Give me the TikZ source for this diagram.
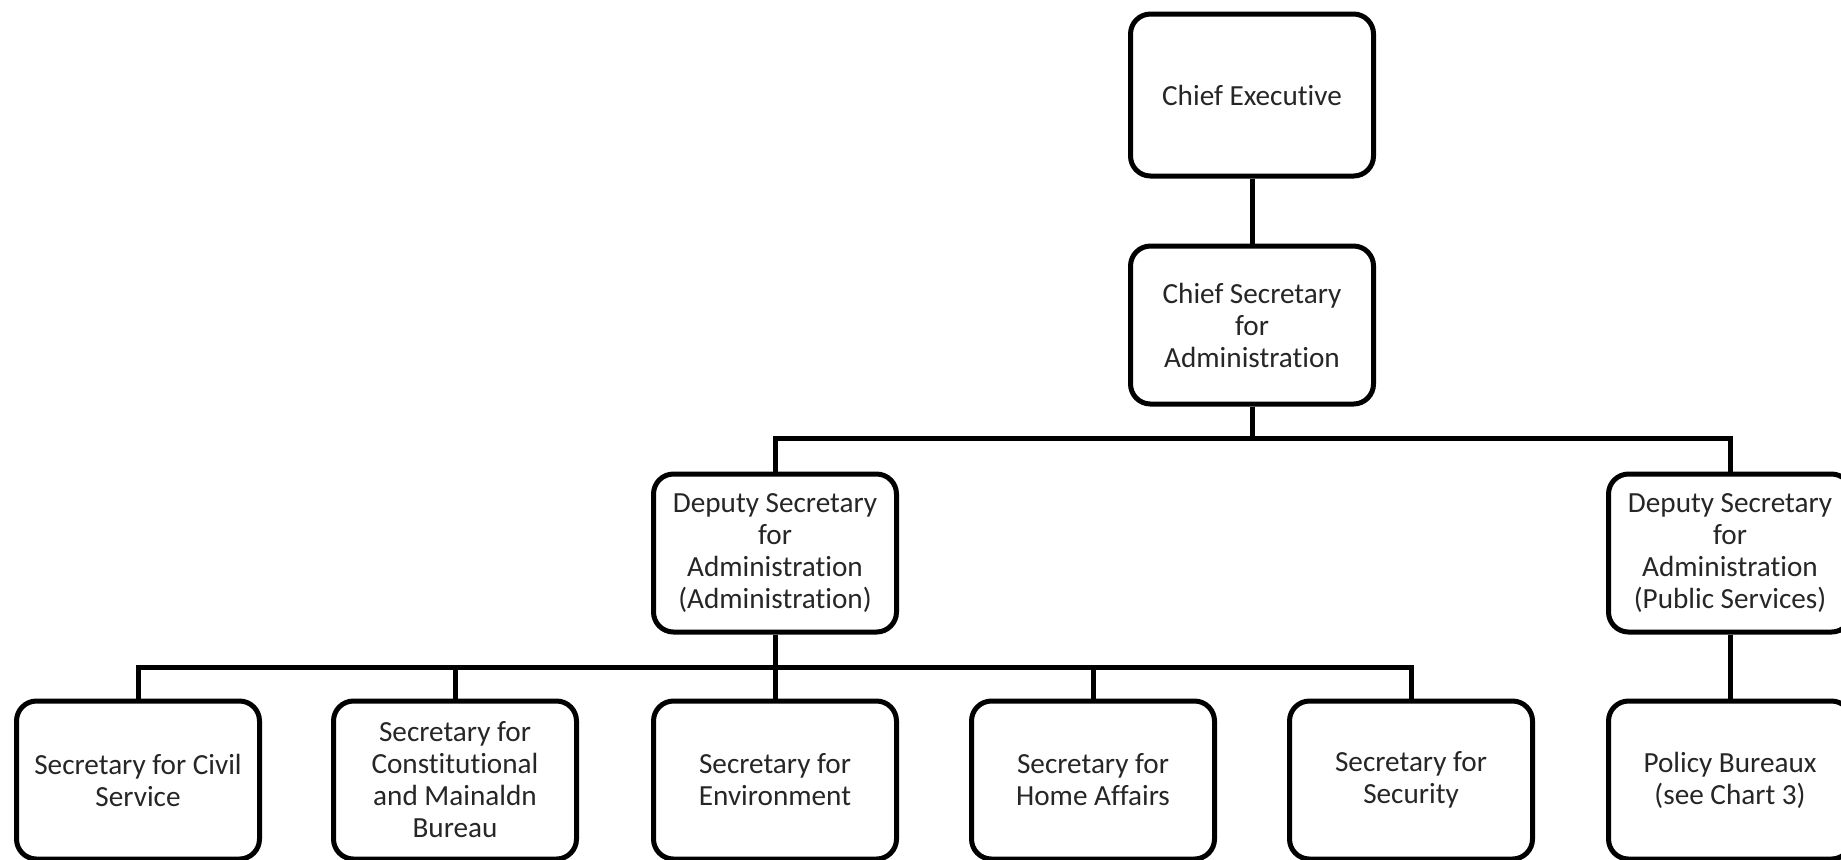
\documentclass[tikz,border=0pt]{standalone}
\usepackage{fontspec}
\setmainfont{Carlito}[Ligatures=NoCommon]
\begin{document}
\begin{tikzpicture}[x=0.5pt,y=-0.5pt,
  box/.style={draw=black, line width=2.5pt, rounded corners=10pt, fill=white,
    minimum width=121.5pt, minimum height=79pt, align=center, inner sep=2pt,
    font=\fontsize{14.6pt}{16pt}\selectfont, text=black!85},
  link/.style={draw=black, line width=2.5pt}]
\clip (0,0) rectangle (1841,859);
\fill[white] (0,0) rectangle (1841,859);
\coordinate (bar1) at (0,438);
\coordinate (bar2) at (0,667);
\node[box, minimum height=81pt] (ce) at (1252,95) {Chief Executive};
\node[box] (cs) at (1252,325) {Chief Secretary\\for\\Administration};
\node[box] (da) at (775,553) {Deputy Secretary\\for\\Administration\\(Administration)};
\node[box] (dp) at (1730,553) {Deputy Secretary\\for\\Administration\\(Public Services)};
\node[box] (s1) at (138,780) {Secretary for Civil\\Service};
\node[box] (s2) at (455,780) {Secretary for\\Constitutional\\and Mainaldn\\Bureau};
\node[box] (s3) at (775,780) {Secretary for\\Environment};
\node[box] (s4) at (1093,780) {Secretary for\\Home Affairs};
\node[box] (s5) at (1411,780) {Secretary for\\Security};
\node[box] (pb) at (1730,780) {Policy Bureaux\\(see Chart 3)};
\draw[link] (ce) -- (cs);
\draw[link] (cs.south) -- (cs.south |- bar1) -| (da.north);
\draw[link] (cs.south |- bar1) -| (dp.north);
\draw[link] (da.south) -- (s3.north);
\draw[link] (da.south |- bar2) -| (s1.north);
\draw[link] (da.south |- bar2) -| (s2.north);
\draw[link] (da.south |- bar2) -| (s4.north);
\draw[link] (da.south |- bar2) -| (s5.north);
\draw[link] (dp) -- (pb);
\end{tikzpicture}
\end{document}
